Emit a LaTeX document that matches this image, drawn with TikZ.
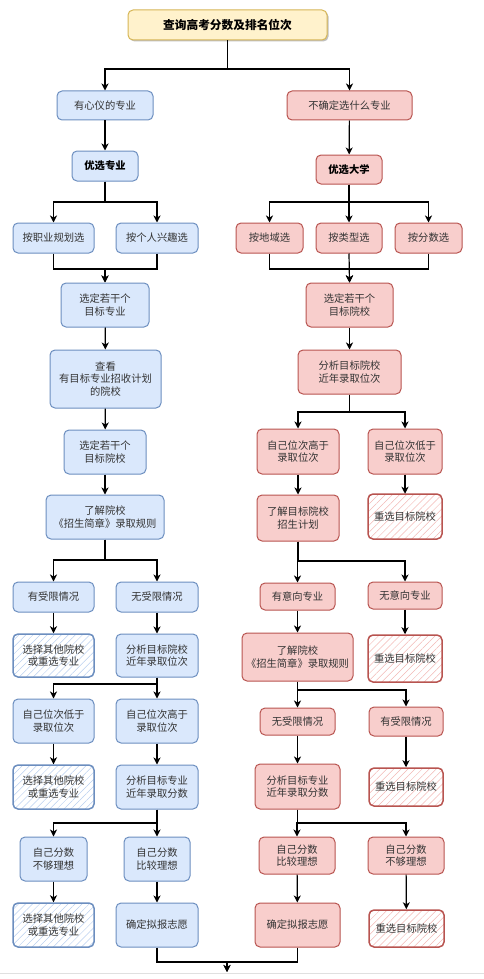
\documentclass[tikz,border=0pt]{standalone}
\usepackage{fontspec}
\setmainfont{Noto Sans CJK SC}
\usetikzlibrary{arrows.meta,patterns.meta,shadows}
\definecolor{bfill}{HTML}{DAE8FC}
\definecolor{bdraw}{HTML}{6C8EBF}
\definecolor{bhatch}{HTML}{B9CFEE}
\definecolor{rfill}{HTML}{F8CECC}
\definecolor{rdraw}{HTML}{B85450}
\definecolor{rhatch}{HTML}{F2B8B5}
\definecolor{yfill}{HTML}{FFF2CC}
\definecolor{ydraw}{HTML}{D6B656}
\definecolor{txt}{HTML}{333333}
\tikzset{
 base/.style={rounded corners=5pt, line width=1pt, align=center, inner sep=1pt,
   font=\fontsize{10.3}{12.7}\selectfont, text=txt},
 bl/.style={base, fill=bfill, draw=bdraw},
 rd/.style={base, fill=rfill, draw=rdraw},
 blh/.style={base, draw=bdraw, line width=1.5pt,
   pattern={Lines[angle=45,distance=5pt,line width=0.5pt]}, pattern color=bhatch},
 rdh/.style={base, draw=rdraw, line width=1.5pt,
   pattern={Lines[angle=45,distance=5pt,line width=0.5pt]}, pattern color=rhatch},
 ttl/.style={base, fill=yfill, draw=ydraw, text=black,
   font=\fontsize{11.7}{14}\selectfont\bfseries,
   drop shadow={shadow xshift=1.5pt, shadow yshift=-1.5pt, opacity=0.25, fill=black}},
 bold/.style={text=black, font=\fontsize{10.3}{12.7}\selectfont\bfseries},
 arr/.style={draw=black, line width=1.2pt, -{Stealth[length=7pt,width=7pt,inset=2pt]}},
 ln/.style={draw=black, line width=1.2pt}
}
\newcommand\bx[7]{\node[#1, minimum width=#5pt, minimum height=#6pt] (#2) at (#3,#4) {#7};}
\begin{document}
\begin{tikzpicture}[x=1pt,y=-1pt]
\useasboundingbox (0,0) rectangle (484,979);
% nodes
\bx{ttl}{title}{227.5}{25}{199}{30}{查询高考分数及排名位次}
\bx{bl}{L1}{105}{105.5}{96}{29}{有心仪的专业}
\bx{rd}{R1}{349.5}{105.5}{125}{29}{不确定选什么专业}
\bx{bl,bold}{L2}{105}{166}{66}{30}{优选专业}
\bx{rd,bold}{R2}{349}{169.5}{66}{29}{优选大学}
\bx{bl}{L3a}{53.5}{238}{81}{30}{按职业规划选}
\bx{bl}{L3b}{157}{238}{82}{30}{按个人兴趣选}
\bx{rd}{R3a}{269.5}{238}{67}{30}{按地域选}
\bx{rd}{R3b}{349}{238}{66}{30}{按类型选}
\bx{rd}{R3c}{428.5}{238}{67}{30}{按分数选}
\bx{bl}{L4}{105}{305}{88}{44}{选定若干个\\目标专业}
\bx{rd}{R4}{349.5}{305}{87}{44}{选定若干个\\目标院校}
\bx{bl}{L5}{105.5}{379}{111}{58}{查看\\有目标专业招收计划\\的院校}
\bx{rd}{R5}{349.5}{372}{103}{44}{分析目标院校\\近年录取位次}
\bx{bl}{L6}{105}{452}{82}{44}{选定若干个\\目标院校}
\bx{rd}{R6a}{298}{451.5}{82}{45}{自己位次高于\\录取位次}
\bx{rd}{R6b}{405}{451.5}{74}{45}{自己位次低于\\录取位次}
\bx{bl}{L7}{105}{517}{118}{44}{了解院校\\《招生简章》录取规则}
\bx{rd}{R7a}{298}{518}{82}{46}{了解目标院校\\招生计划}
\bx{rdh}{R7b}{405}{516.5}{74}{45}{重选目标院校}
\bx{bl}{L8a}{53.5}{597}{81}{30}{有受限情况}
\bx{bl}{L8b}{157}{597}{82}{30}{无受限情况}
\bx{rd}{R8a}{297.5}{596.5}{75}{27}{有意向专业}
\bx{rd}{R8b}{405}{595.5}{74}{27}{无意向专业}
\bx{blh}{L9a}{53.5}{655.5}{81}{43}{选择其他院校\\或重选专业}
\bx{bl}{L9b}{157}{655.5}{82}{43}{分析目标院校\\近年录取位次}
\bx{rd}{R9a}{297.5}{657}{111}{48}{了解院校\\《招生简章》录取规则}
\bx{rdh}{R9b}{405}{658.5}{74}{47}{重选目标院校}
\bx{bl}{L10a}{53.5}{721}{81}{44}{自己位次低于\\录取位次}
\bx{bl}{L10b}{157}{721}{82}{44}{自己位次高于\\录取位次}
\bx{rd}{R10a}{297.5}{721.5}{75}{27}{无受限情况}
\bx{rd}{R10b}{406}{721.5}{74}{29}{有受限情况}
\bx{blh}{L11a}{53.5}{787}{81}{44}{选择其他院校\\或重选专业}
\bx{bl}{L11b}{157}{787}{82}{44}{分析目标专业\\近年录取分数}
\bx{rd}{R11a}{297.5}{786.5}{85}{45}{分析目标专业\\近年录取分数}
\bx{rdh}{R11b}{406}{787}{74}{38}{重选目标院校}
\bx{bl}{L12a}{53.5}{859}{67}{44}{自己分数\\不够理想}
\bx{bl}{L12b}{157}{859}{66}{44}{自己分数\\比较理想}
\bx{rd}{R12a}{297}{855.5}{76}{37}{自己分数\\比较理想}
\bx{rd}{R12b}{406}{855.5}{76}{37}{自己分数\\不够理想}
\bx{blh}{L13a}{53.5}{925}{81}{44}{选择其他院校\\或重选专业}
\bx{bl}{L13b}{157}{925}{82}{44}{确定拟报志愿}
\bx{rd}{R13a}{297.5}{925}{85}{44}{确定拟报志愿}
\bx{rdh}{R13b}{406.5}{928.5}{75}{37}{重选目标院校}
\coordinate (endpt) at (227,972);
% connectors
\draw[arr] (title.south) -- (title.south |- 0,69) -| (L1.north);
\draw[arr] (title.south) -- (title.south |- 0,69) -| (R1.north);
\draw[arr] (L1) -- (L2);
\draw[arr] (R1) -- (R2);
\draw[arr] (L2.south) -- (L2.south |- 0,202) -| (L3a.north);
\draw[arr] (L2.south) -- (L2.south |- 0,202) -| (L3b.north);
\draw[arr] (R2.south) -- (R2.south |- 0,202) -| (R3a.north);
\draw[arr] (R2.south) -- (R3b.north);
\draw[arr] (R2.south) -- (R2.south |- 0,202) -| (R3c.north);
\draw[arr] (L3a.south) |- (L4.north |- 0,269) -- (L4.north);
\draw[arr] (L3b.south) |- (L4.north |- 0,269) -- (L4.north);
\draw[arr] (R3a.south) |- (R4.north |- 0,269) -- (R4.north);
\draw[arr] (R3b.south) -- (R4.north);
\draw[arr] (R3c.south) |- (R4.north |- 0,269) -- (R4.north);
\draw[arr] (L4) -- (L5);
\draw[arr] (L5) -- (L6);
\draw[arr] (L6) -- (L7);
\draw[arr] (R4) -- (R5);
\draw[arr] (R5.south) -- (R5.south |- 0,412) -| (R6a.north);
\draw[arr] (R5.south) -- (R5.south |- 0,412) -| (R6b.north);
\draw[arr] (R6a) -- (R7a);
\draw[arr] (R6b) -- (R7b);
\draw[arr] (L7.south) -- (L7.south |- 0,560) -| (L8a.north);
\draw[arr] (L7.south) -- (L7.south |- 0,560) -| (L8b.north);
\draw[arr] (R7a.south) -- (R7a.south |- 0,561) -| (R8a.north);
\draw[arr] (R7a.south) -- (R7a.south |- 0,561) -| (R8b.north);
\draw[arr] (L8a) -- (L9a);
\draw[arr] (L8b) -- (L9b);
\draw[arr] (R8a) -- (R9a);
\draw[arr] (R8b) -- (R9b);
\draw[arr] (L9b.south) -- (L9b.south |- 0,684) -| (L10a.north);
\draw[arr] (L9b.south) -- (L10b.north);
\draw[arr] (R9a.south) -- (R9a.south |- 0,690) -| (R10a.north);
\draw[arr] (R9a.south) -- (R9a.south |- 0,690) -| (R10b.north);
\draw[arr] (L10a) -- (L11a);
\draw[arr] (L10b) -- (L11b);
\draw[arr] (R10a) -- (R11a);
\draw[arr] (R10b) -- (R11b);
\draw[arr] (L11b.south) -- (L11b.south |- 0,823) -| (L12a.north);
\draw[arr] (L11b.south) -- (L12b.north);
\draw[arr] (R11a.south) -- (R11a.south |- 0,823) -| (R12a.north);
\draw[arr] (R11a.south) -- (R11a.south |- 0,823) -| (R12b.north);
\draw[arr] (L12a) -- (L13a);
\draw[arr] (L12b) -- (L13b);
\draw[arr] (R12a) -- (R13a);
\draw[arr] (R12b) -- (R13b);
\draw[arr] (L13b.south) |- (endpt |- 0,962) -- (endpt);
\draw[arr] (R13a.south) |- (endpt |- 0,962) -- (endpt);
\fill[white] (0,973.5) rectangle (484,979);
\draw[draw=black!12, line width=1pt] (0,973) -- (484,973);
\end{tikzpicture}
\end{document}
